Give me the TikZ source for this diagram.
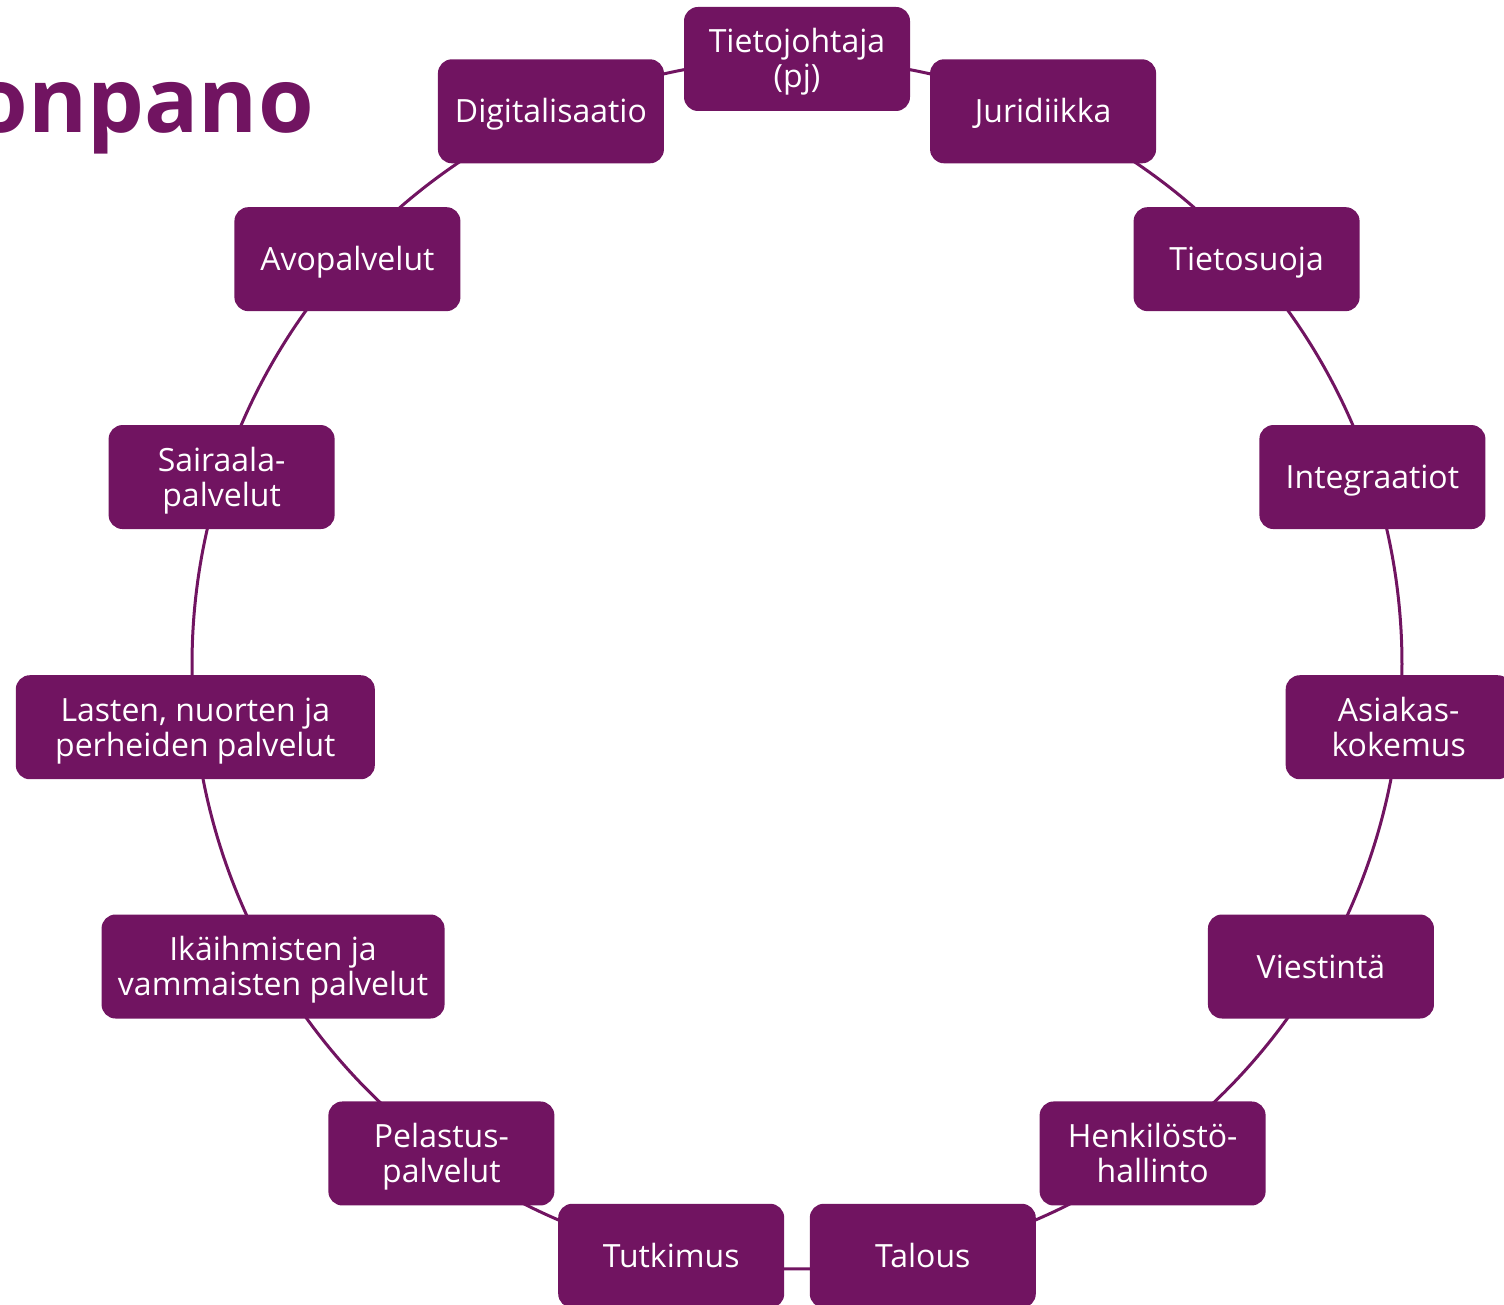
\documentclass[tikz,border=0pt]{standalone}
\usepackage{fontspec}
\setmainfont{Open Sans}
\usetikzlibrary{backgrounds,calc}
\definecolor{vio}{RGB}{113,20,97}
\begin{document}
\begin{tikzpicture}[x=1pt,y=1pt,
  box/.style={fill=vio,draw=none,rounded corners=14pt,text=white,
    minimum width=226pt,minimum height=104pt,align=center,inner sep=0pt,
    font=\fontsize{32}{35}\selectfont,text height=23pt,text depth=0pt},
  twoline/.style={text height=58pt,text depth=0pt},
  ring/.style={draw=vio,line width=3pt,bend left=12,looseness=0.86}]
\useasboundingbox (0,0) rectangle (1504,-1305);
\clip (0,0) rectangle (1504,-1305);
\coordinate (c) at (797,-664);
\node[anchor=base east,inner sep=0pt,text=vio,font=\fontsize{90}{90}\selectfont\bfseries] (title) at (314,-133) {oonpano};
\node[box,twoline] (n1) at ($(c)+(90:605)$) {Tietojohtaja\\(pj)};
\node[box] (n2) at ($(c)+(66:605)$) {Juridiikka};
\node[box] (n3) at ($(c)+(42:605)$) {Tietosuoja};
\node[box] (n4) at ($(c)+(18:605)$) {Integraatiot};
\node[box,twoline] (n5) at ($(c)+(-6:605)$) {Asiakas-\\kokemus};
\node[box] (n6) at ($(c)+(-30:605)$) {Viestintä};
\node[box,twoline] (n7) at ($(c)+(-54:605)$) {Henkilöstö-\\hallinto};
\node[box] (n8) at ($(c)+(-78:605)$) {Talous};
\node[box] (n9) at ($(c)+(-102:605)$) {Tutkimus};
\node[box,twoline] (n10) at ($(c)+(-126:605)$) {Pelastus-\\palvelut};
\node[box,twoline,minimum width=343pt] (n11) at ($(c)+(-150:605)$) {Ikäihmisten ja\\vammaisten palvelut};
\node[box,twoline,minimum width=359pt] (n12) at ($(c)+(-174:605)$) {Lasten, nuorten ja\\perheiden palvelut};
\node[box,twoline] (n13) at ($(c)+(162:605)$) {Sairaala-\\palvelut};
\node[box] (n14) at ($(c)+(138:605)$) {Avopalvelut};
\node[box] (n15) at ($(c)+(114:605)$) {Digitalisaatio};
\begin{scope}[on background layer]
\draw[ring] (n1.center) to (n2.center);
\draw[ring] (n2.center) to (n3.center);
\draw[ring] (n3.center) to (n4.center);
\draw[ring] (n4.center) to (n5.center);
\draw[ring] (n5.center) to (n6.center);
\draw[ring] (n6.center) to (n7.center);
\draw[ring] (n7.center) to (n8.center);
\draw[ring] (n8.center) to (n9.center);
\draw[ring] (n9.center) to (n10.center);
\draw[ring] (n10.center) to (n11.center);
\draw[ring] (n11.center) to (n12.center);
\draw[ring] (n12.center) to (n13.center);
\draw[ring] (n13.center) to (n14.center);
\draw[ring] (n14.center) to (n15.center);
\draw[ring] (n15.center) to (n1.center);
\end{scope}
\end{tikzpicture}
\end{document}
